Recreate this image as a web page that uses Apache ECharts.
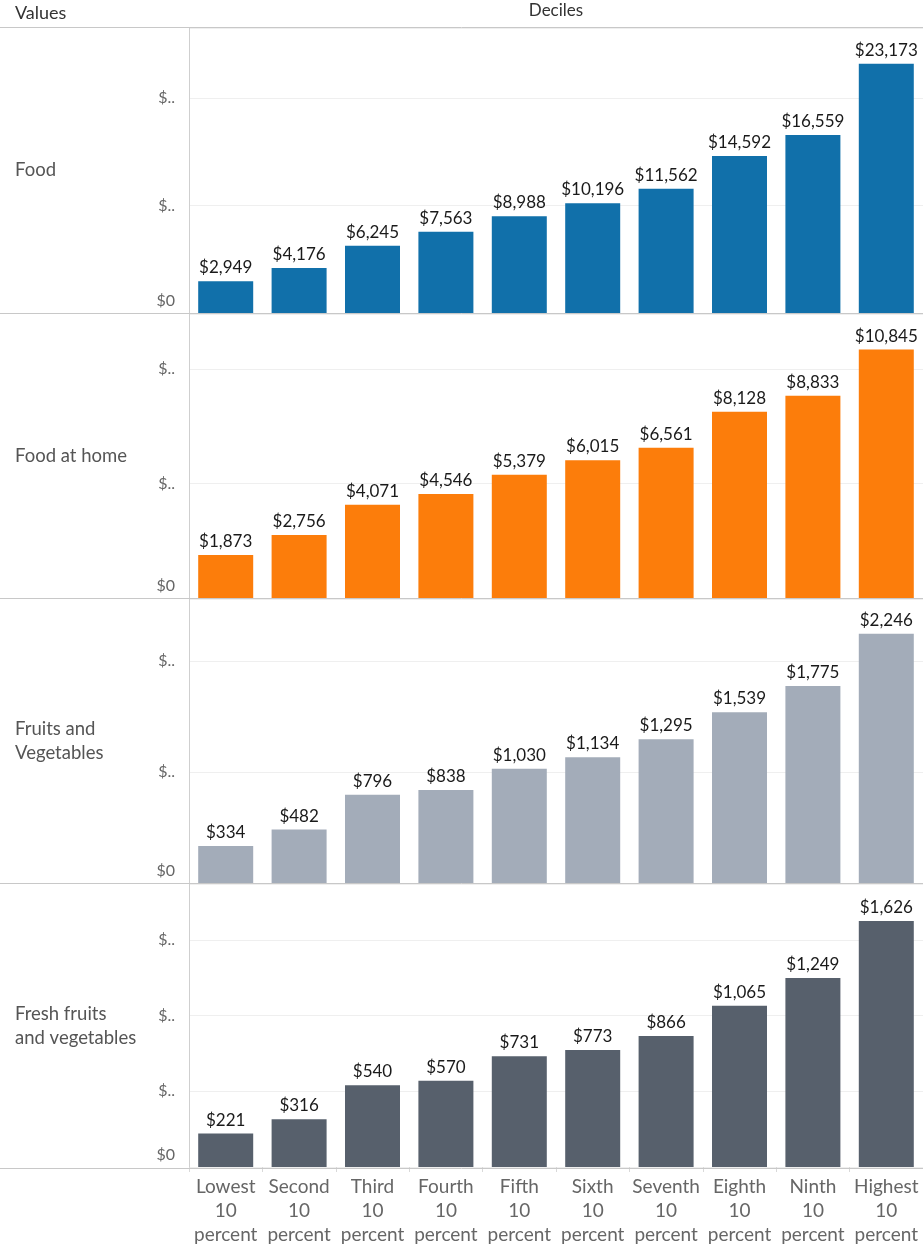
<!DOCTYPE html>
<html><head><meta charset="utf-8">
<script src="https://cdn.jsdelivr.net/npm/echarts@6/dist/echarts.min.js"></script>
<style>html,body{margin:0;padding:0;background:#fff}#c{width:923px;height:1247px}</style>
</head><body><div id="c"></div>
<script>
const categories = ['Lowest\n10\npercent','Second\n10\npercent','Third\n10\npercent','Fourth\n10\npercent','Fifth\n10\npercent','Sixth\n10\npercent','Seventh\n10\npercent','Eighth\n10\npercent','Ninth\n10\npercent','Highest\n10\npercent'];
const rowNames = ['Food','Food at home','Fruits and\nVegetables','Fresh fruits\nand vegetables'];
const food = [2949,4176,6245,7563,8988,10196,11562,14592,16559,23173];
const foodAtHome = [1873,2756,4071,4546,5379,6015,6561,8128,8833,10845];
const fruitsVeg = [334,482,796,838,1030,1134,1295,1539,1775,2246];
const freshFruitsVeg = [221,316,540,570,731,773,866,1065,1249,1626];
const seriesData = [food, foodAtHome, fruitsVeg, freshFruitsVeg];
const yMax = [26500, 12400, 2560, 1870];
const yInterval = [10000, 5000, 1000, 500];
const colors = ['#1170aa','#fc7d0b','#a3acb9','#57606c'];

const FONT = 'Lato';
const paneTops = [28, 314, 599, 884];
const paneH = [285, 284, 284, 284];
const chart = echarts.init(document.getElementById('c'), null, {renderer:'canvas'});
const grids = [], xAxes = [], yAxes = [], series = [];
for (let i = 0; i < 4; i++) {
  grids.push({left:189, right:0, top:paneTops[i], height:paneH[i]});
  const last = i === 3;
  xAxes.push({
    type:'category', gridIndex:i, data:categories,
    axisLine:{show:false},
    axisTick:{show:last, length:5, lineStyle:{color:'#d9d9d9'}},
    axisLabel:{show:last, color:'#666', fontFamily:FONT, fontSize:19, lineHeight:24, margin:8, interval:0}
  });
  yAxes.push({
    type:'value', gridIndex:i, min:0, max:yMax[i], interval:yInterval[i],
    axisLine:{show:true, lineStyle:{color:'#cfcfcf', width:1}},
    axisTick:{show:false},
    splitLine:{show:true, lineStyle:{color:'#efefef', width:1}},
    axisLabel:{showMaxLabel:false, color:'#666', fontFamily:FONT, fontSize:16, margin:14,
      formatter: v => v === 0 ? '{z|$0}' : (v % yInterval[i] === 0 ? '$..' : ''),
      rich:{z:{color:'#666', fontFamily:FONT, fontSize:16, padding:[0,0,24,0]}}}
  });
  series.push({
    type:'bar', xAxisIndex:i, yAxisIndex:i, data:seriesData[i], barWidth:55,
    itemStyle:{color:colors[i]},
    label:{show:true, position:'top', distance:5, color:'#1a1a1a', fontFamily:FONT, fontSize:17,
      formatter: p => '$' + p.value.toLocaleString('en-US')}
  });
}
const graphic = [];
[27.5, 313.5, 598.5, 883.5, 1168.5].forEach(y => {
  graphic.push({type:'line', shape:{x1:0, y1:y, x2:923, y2:y}, style:{stroke:'#c8c8c8', lineWidth:1}, z:10});
});
graphic.push({type:'text', x:15, y:4, style:{text:'Values', fill:'#333', font:'18px "'+FONT+'"'}});
graphic.push({type:'text', x:556, y:2, style:{text:'Deciles', fill:'#333', font:'17px "'+FONT+'"', textAlign:'center'}});
rowNames.forEach((n, i) => {
  graphic.push({type:'text', x:15, y:paneTops[i] + paneH[i]/2, style:{text:n, fill:'#555', font:'18.5px "'+FONT+'"', lineHeight:24, textVerticalAlign:'middle', textAlign:'left'}});
});
chart.setOption({animation:false, grid:grids, xAxis:xAxes, yAxis:yAxes, series:series, graphic:graphic});
</script></body></html>
